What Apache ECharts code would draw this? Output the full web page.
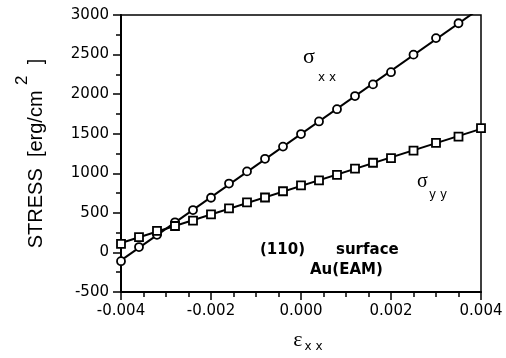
<!DOCTYPE html>
<html>
<head>
<meta charset="utf-8">
<script src="https://cdn.jsdelivr.net/npm/echarts@6/dist/echarts.min.js"></script>
<style>
  html, body { margin: 0; padding: 0; background: #fff; }
  #chart { width: 506px; height: 358px; }
</style>
</head>
<body>
<div id="chart"></div>
<script>
// sigma_xx (circles) vs strain
const strainXX = [-0.004, -0.0036, -0.0032, -0.0028, -0.0024, -0.002, -0.0016, -0.0012, -0.0008, -0.0004,
  0, 0.0004, 0.0008, 0.0012, 0.0016, 0.002, 0.0025, 0.003, 0.0035]
const stressXX = [-111, 68, 222, 381, 535, 691, 870, 1024, 1183, 1337,
  1496, 1655, 1810, 1976, 2123, 2277, 2499, 2708, 2896]

// sigma_yy (squares) vs strain
const strainYY = [-0.004, -0.0036, -0.0032, -0.0028, -0.0024, -0.002, -0.0016, -0.0012, -0.0008, -0.0004,
  0, 0.0004, 0.0008, 0.0012, 0.0016, 0.002, 0.0025, 0.003, 0.0035, 0.004]
const stressYY = [109, 193, 272, 334, 402, 481, 556, 632, 694, 773,
  848, 910, 980, 1058, 1133, 1192, 1287, 1383, 1462, 1571]

const xRange = [-0.004, 0.004]
const xStep = 0.002
const yRange = [-500, 3000]
const yStep = 500

// least squares straight line through the points, drawn across the x range
function fitLine(xs, ys) {
  const n = xs.length
  const mx = xs.reduce((s, v) => s + v, 0) / n
  const my = ys.reduce((s, v) => s + v, 0) / n
  let sxy = 0, sxx = 0
  xs.forEach((x, i) => { sxy += (x - mx) * (ys[i] - my); sxx += (x - mx) * (x - mx) })
  const k = sxy / sxx
  return xRange.map((x) => [x, my + k * (x - mx)])
}

const pairs = (xs, ys) => xs.map((x, i) => [x, ys[i]])

const chart = echarts.init(document.getElementById('chart'), null, { renderer: 'canvas' })

const axisCommon = {
  axisLine: { onZero: false, lineStyle: { color: '#000', width: 2 } },
  axisTick: { show: true, inside: false, length: 8, lineStyle: { color: '#000', width: 1.5 } },
  minorTick: { show: true, length: 5, lineStyle: { color: '#000', width: 1.5 } },
  splitLine: { show: false },
}

const markStyle = { color: '#fff', borderColor: '#000', borderWidth: 1.8, opacity: 1 }

chart.setOption({
  animation: false,
  backgroundColor: '#fff',
  grid: { left: 121, right: 25, top: 15, bottom: 64, show: true, borderColor: '#000', borderWidth: 1.5 },
  xAxis: {
    type: 'value',
    min: xRange[0],
    max: xRange[1],
    interval: xStep,
    ...axisCommon,
    minorTick: { ...axisCommon.minorTick, splitNumber: 4 },
    axisLabel: {
      color: '#000', fontFamily: 'DejaVu Sans', fontSize: 15, margin: 12,
      formatter: (v) => v.toFixed(3),
    },
    name: '{e|ε}{s|x x}',
    nameLocation: 'middle',
    nameGap: 35,
    nameTextStyle: {
      padding: [0, 0, 0, 14],
      rich: {
        e: { fontFamily: 'Liberation Serif', fontSize: 22, color: '#000', lineHeight: 26 },
        s: { fontFamily: 'DejaVu Sans', fontSize: 12, color: '#000', verticalAlign: 'bottom', padding: [0, 0, 0, 2] },
      },
    },
  },
  yAxis: {
    type: 'value',
    min: yRange[0],
    max: yRange[1],
    interval: yStep,
    ...axisCommon,
    minorTick: { ...axisCommon.minorTick, splitNumber: 2 },
    axisLabel: { color: '#000', fontFamily: 'DejaVu Sans', fontSize: 15, margin: 12, formatter: (v) => String(v) },
    name: '{a|STRESS  [erg/cm }{s|2}{a|  ]}',
    nameLocation: 'middle',
    nameRotate: 90,
    nameGap: 63,
    nameTextStyle: {
      rich: {
        a: { fontFamily: 'Liberation Sans', fontSize: 20, color: '#000', lineHeight: 44 },
        s: { fontFamily: 'Liberation Sans', fontSize: 17, color: '#000', verticalAlign: 'top', lineHeight: 17 },
      },
    },
  },
  series: [
    {
      type: 'line', data: fitLine(strainXX, stressXX), showSymbol: false, clip: true,
      lineStyle: { color: '#000', width: 2 }, z: 2,
    },
    {
      type: 'line', data: fitLine(strainYY, stressYY), showSymbol: false, clip: true,
      lineStyle: { color: '#000', width: 2 }, z: 2,
    },
    {
      type: 'scatter', data: pairs(strainXX, stressXX), symbol: 'circle', symbolSize: 8,
      itemStyle: markStyle, z: 3, clip: false,
    },
    {
      type: 'scatter', data: pairs(strainYY, stressYY), symbol: 'rect', symbolSize: 8,
      itemStyle: markStyle, z: 3, clip: false,
    },
  ],
  graphic: [
    { type: 'text', left: 303, top: 46, style: { text: 'σ', font: '22px "Liberation Serif"', fill: '#000' } },
    { type: 'text', left: 318, top: 72, style: { text: 'x x', font: '12px "DejaVu Sans"', fill: '#000' } },
    { type: 'text', left: 417, top: 172, style: { text: 'σ', font: '20px "Liberation Serif"', fill: '#000' } },
    { type: 'text', left: 429, top: 189, style: { text: 'y y', font: '12px "DejaVu Sans"', fill: '#000' } },
    { type: 'text', left: 260, top: 243, style: { text: '(110)', font: 'bold 15px "DejaVu Sans"', fill: '#000' } },
    { type: 'text', left: 336, top: 243, style: { text: 'surface', font: 'bold 15px "DejaVu Sans"', fill: '#000' } },
    { type: 'text', left: 310, top: 263, style: { text: 'Au(EAM)', font: 'bold 15px "DejaVu Sans"', fill: '#000' } },
  ],
})
</script>
</body>
</html>
